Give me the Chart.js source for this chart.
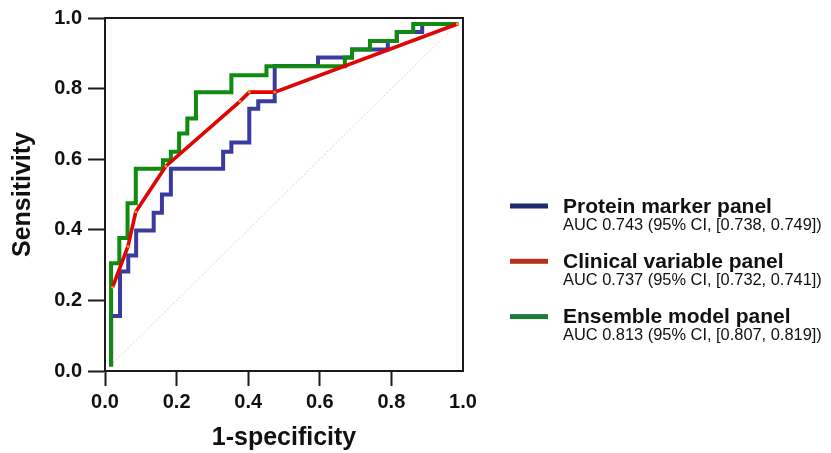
<!DOCTYPE html>
<html>
<head>
<meta charset="utf-8">
<script src="https://cdn.jsdelivr.net/npm/chart.js@4.4.1/dist/chart.umd.min.js"></script>
<style>
  html, body { margin: 0; padding: 0; background: #fff; }
  #roc { display: block; }
</style>
</head>
<body>
<canvas id="roc" width="831" height="453"></canvas>
<script>
'use strict';

// ROC operating points (1-specificity, sensitivity)
const proteinFpr = [0.017, 0.017, 0.042, 0.065, 0.087, 0.136, 0.159, 0.184, 0.330, 0.353, 0.403, 0.428, 0.474, 0.595, 0.690, 0.790, 0.815, 0.886, 0.987];
const proteinTpr = [0.013, 0.156, 0.282, 0.327, 0.398, 0.448, 0.500, 0.573, 0.621, 0.647, 0.743, 0.764, 0.864, 0.888, 0.911, 0.935, 0.960, 0.983, 0.983];

const clinicalFpr = [0.021, 0.064, 0.086, 0.170, 0.377, 0.403, 0.474, 0.984];
const clinicalTpr = [0.237, 0.353, 0.451, 0.580, 0.764, 0.790, 0.790, 0.983];

const ensembleFpr = [0.017, 0.017, 0.040, 0.063, 0.086, 0.162, 0.184, 0.207, 0.230, 0.254, 0.353, 0.451, 0.670, 0.690, 0.740, 0.815, 0.861, 0.987];
const ensembleTpr = [0.013, 0.305, 0.377, 0.475, 0.573, 0.597, 0.621, 0.673, 0.715, 0.790, 0.838, 0.863, 0.888, 0.911, 0.935, 0.960, 0.983, 0.983];

const chanceFpr = [0.015, 0.985];
const chanceTpr = [0.015, 0.985];

const panelNames = ['Protein marker panel', 'Clinical variable panel', 'Ensemble model panel'];
const panelAuc = [
  'AUC 0.743 (95% CI, [0.738, 0.749])',
  'AUC 0.737 (95% CI, [0.732, 0.741])',
  'AUC 0.813 (95% CI, [0.807, 0.819])',
];
const axisTicks = [0, 0.2, 0.4, 0.6, 0.8, 1.0];

const lineColors = ['#3b3b9e', '#e00505', '#108a10'];
const swatchColors = ['#1c2d6b', '#b8301c', '#1d7a3e'];
const inkColor = '#111';
const fontFamily = 'Arial, "Liberation Sans", sans-serif';

function toPoints(xs, ys) {
  return xs.map((x, i) => ({ x: x, y: ys[i] }));
}

function setTicks(scale) {
  scale.ticks = axisTicks.map(value => ({ value: value }));
}

// closes the box on the top and right sides
const frameLines = {
  id: 'frameLines',
  beforeDatasetsDraw(chart) {
    const { ctx, chartArea } = chart;
    ctx.save();
    ctx.strokeStyle = '#1a1a1a';
    ctx.lineWidth = 2;
    ctx.beginPath();
    ctx.moveTo(chartArea.left, chartArea.top);
    ctx.lineTo(chartArea.right, chartArea.top);
    ctx.lineTo(chartArea.right, chartArea.bottom);
    ctx.stroke();
    ctx.restore();
  },
};

// two-line legend to the right of the plot
const panelLegend = {
  id: 'panelLegend',
  afterDraw(chart) {
    const { ctx, chartArea } = chart;
    const left = chartArea.right + 47;
    ctx.save();
    ctx.textBaseline = 'alphabetic';
    ctx.textAlign = 'left';
    panelNames.forEach((name, i) => {
      const y = 206 + i * 55.3;
      ctx.fillStyle = swatchColors[i];
      ctx.fillRect(left, y - 2.5, 38, 5);
      ctx.fillStyle = inkColor;
      ctx.font = 'bold 21px ' + fontFamily;
      ctx.fillText(name, left + 53, y + 6.5);
      ctx.font = '16.4px ' + fontFamily;
      ctx.fillText(panelAuc[i], left + 53, y + 23.5);
    });
    ctx.restore();
  },
};

const tickFont = { family: fontFamily, size: 20, weight: 'bold' };
const titleFont = { family: fontFamily, size: 25, weight: 'bold' };

const chart = new Chart(document.getElementById('roc').getContext('2d'), {
  type: 'line',
  data: {
    datasets: [
      {
        label: panelNames[0],
        data: toPoints(proteinFpr, proteinTpr),
        borderColor: lineColors[0],
        borderWidth: 4,
        stepped: 'before',
        pointRadius: 0,
        order: 2,
      },
      {
        label: panelNames[1],
        data: toPoints(clinicalFpr, clinicalTpr),
        borderColor: lineColors[1],
        borderWidth: 3.6,
        pointRadius: 1.4,
        pointBorderWidth: 0,
        pointBackgroundColor: '#f0a020',
        order: 0,
      },
      {
        label: panelNames[2],
        data: toPoints(ensembleFpr, ensembleTpr),
        borderColor: lineColors[2],
        borderWidth: 4,
        stepped: 'before',
        pointRadius: 0,
        order: 1,
      },
      {
        label: 'chance',
        data: toPoints(chanceFpr, chanceTpr),
        borderColor: '#f7cdb0',
        borderWidth: 1,
        borderDash: [2, 2],
        pointRadius: 0,
        order: 3,
      },
    ],
  },
  options: {
    responsive: false,
    animation: false,
    events: [],
    layout: { padding: { top: 14, right: 368, bottom: 0, left: 0 } },
    plugins: {
      legend: { display: false },
      tooltip: { enabled: false },
    },
    scales: {
      x: {
        type: 'linear',
        min: 0,
        max: 1,
        afterBuildTicks: setTicks,
        afterFit: scale => { scale.height = 82; },
        grid: {
          drawOnChartArea: false,
          tickLength: 15,
          tickWidth: 2,
          tickColor: ctx => (ctx.index === axisTicks.length - 1 ? 'rgba(0,0,0,0)' : '#1a1a1a'),
        },
        border: { display: true, width: 2, color: '#1a1a1a' },
        ticks: {
          padding: 4,
          color: inkColor,
          font: tickFont,
          maxRotation: 0,
          autoSkip: false,
          callback: value => value.toFixed(1),
        },
        title: {
          display: true,
          text: '1-specificity',
          color: inkColor,
          font: titleFont,
          padding: { top: 0, bottom: 0 },
        },
      },
      y: {
        type: 'linear',
        min: 0,
        max: 1,
        afterBuildTicks: setTicks,
        afterFit: scale => { scale.width = 105; },
        grid: {
          drawOnChartArea: false,
          tickLength: 17,
          tickWidth: 2,
          tickColor: '#1a1a1a',
        },
        border: { display: true, width: 2, color: '#1a1a1a' },
        ticks: {
          padding: 6,
          color: inkColor,
          font: tickFont,
          autoSkip: false,
          callback: value => value.toFixed(1),
        },
        title: {
          display: true,
          text: 'Sensitivity',
          color: inkColor,
          font: titleFont,
          padding: { top: 8, bottom: 0 },
        },
      },
    },
  },
  plugins: [frameLines, panelLegend],
});
</script>
</body>
</html>
